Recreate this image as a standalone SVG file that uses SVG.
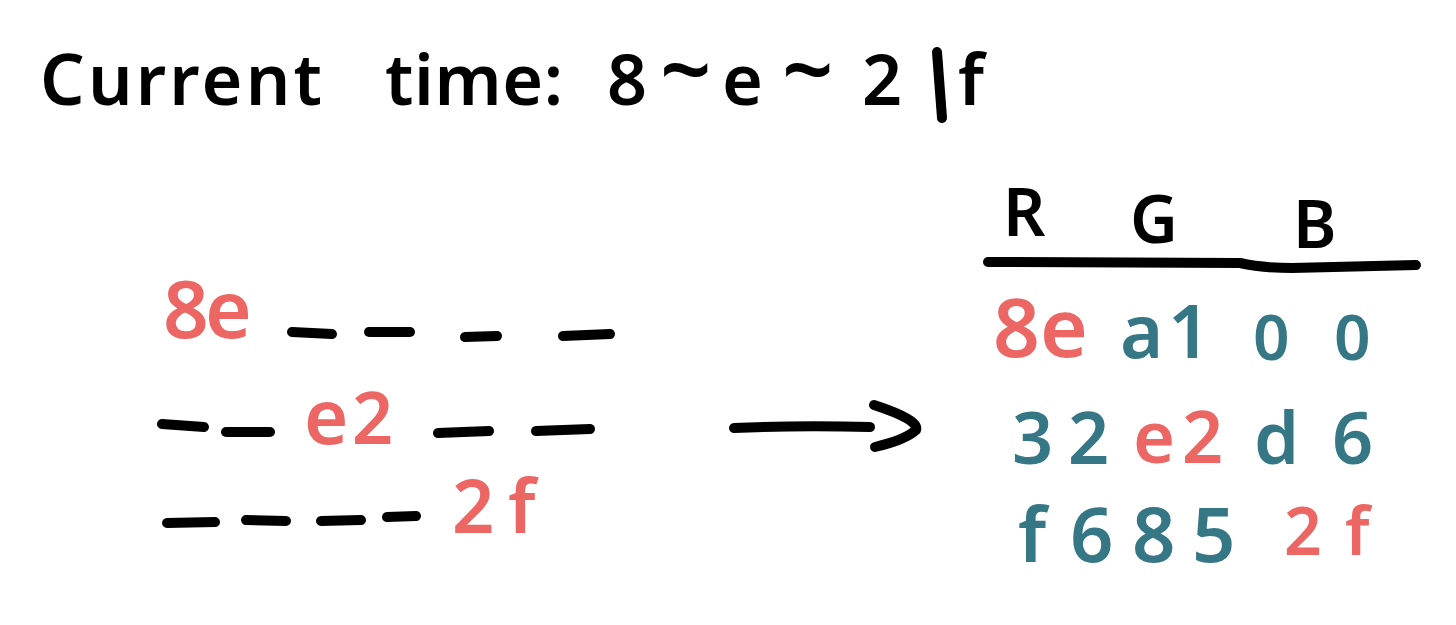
<svg xmlns="http://www.w3.org/2000/svg" width="1456" height="625" viewBox="0 0 1456 625">
<style>
.t{font-family:"Noto Sans","DejaVu Sans",sans-serif;font-weight:600;}
.blk{fill:#000;}
.red{fill:#ec6764;}
.teal{fill:#357784;}
.dash{stroke:#000;stroke-width:10;stroke-linecap:round;fill:none;}
</style>
<rect width="1456" height="625" fill="#fff"/>
<g id="title" class="t blk" font-size="70">
<text x="40" y="105" textLength="282" lengthAdjust="spacing">Current</text>
<text x="385" y="105" textLength="178" lengthAdjust="spacing">time:</text>
<text y="105"><tspan x="607">8</tspan><tspan x="660" y="102" font-size="90">~</tspan><tspan x="722" y="105">e</tspan><tspan x="782" y="102" font-size="90">~</tspan><tspan x="862" y="105">2</tspan></text>
<path class="dash" d="M937,52 L942,118" stroke-width="8"/>
<text x="958" y="105">f</text>
</g>
<g id="row1">
<text class="t red" font-size="80" y="338"><tspan x="163">8</tspan><tspan x="205">e</tspan></text>
<path class="dash" d="M292,332 L332,334"/>
<path class="dash" d="M369,332 L410,332"/>
<path class="dash" d="M465,337 L497,336"/>
<path class="dash" d="M563,336 L610,334"/>
</g>
<g id="row2">
<path class="dash" d="M162,424 L204,427"/>
<path class="dash" d="M226,432 L270,432"/>
<text class="t red" y="444"><tspan x="304" font-size="76">e</tspan><tspan x="352" font-size="72">2</tspan></text>
<path class="dash" d="M438,433 L489,431"/>
<path class="dash" d="M536,431 L590,429"/>
</g>
<g id="row3">
<path class="dash" d="M167,523 L215,522"/>
<path class="dash" d="M246,520 L286,521"/>
<path class="dash" d="M321,521 L361,520"/>
<path class="dash" d="M387,517 L416,516"/>
<text class="t red" font-size="74" y="533"><tspan x="452">2</tspan><tspan x="508">f</tspan></text>
</g>
<g id="connectors">
<path class="dash" d="M734,428 Q800,425 870,427" stroke-width="12"/>
<path class="dash" d="M874,405 Q920,420 916,430 Q905,440 875,447" stroke-width="11"/>
</g>
<g id="table-header" class="t blk" font-size="66">
<text x="1003" y="236">R</text>
<text x="1130" y="243">G</text>
<text x="1293" y="248">B</text>
<path class="dash" d="M988,262 L1240,263 Q1262,268 1292,268 L1416,265" stroke-width="9"/>
</g>
<g id="table-row1" class="t">
<text class="red" font-size="82" y="357"><tspan x="993">8</tspan><tspan x="1040">e</tspan></text>
<text class="teal" font-size="74" y="358"><tspan x="1120">a</tspan><tspan x="1168">1</tspan></text>
<text class="teal" font-size="64" y="360"><tspan x="1253">0</tspan><tspan x="1334">0</tspan></text>
</g>
<g id="table-row2" class="t" font-size="72">
<text class="teal" y="464"><tspan x="1012">3</tspan><tspan x="1068">2</tspan></text>
<text class="red" y="463"><tspan x="1133">e</tspan><tspan x="1182">2</tspan></text>
<text class="teal" y="464"><tspan x="1254">d</tspan><tspan x="1332">6</tspan></text>
</g>
<g id="table-row3" class="t">
<text class="teal" font-size="76" y="562"><tspan x="1018">f</tspan><tspan x="1070">6</tspan><tspan x="1132">8</tspan><tspan x="1192">5</tspan></text>
<text class="red" font-size="66" y="555"><tspan x="1284">2</tspan><tspan x="1345">f</tspan></text>
</g>
</svg>
